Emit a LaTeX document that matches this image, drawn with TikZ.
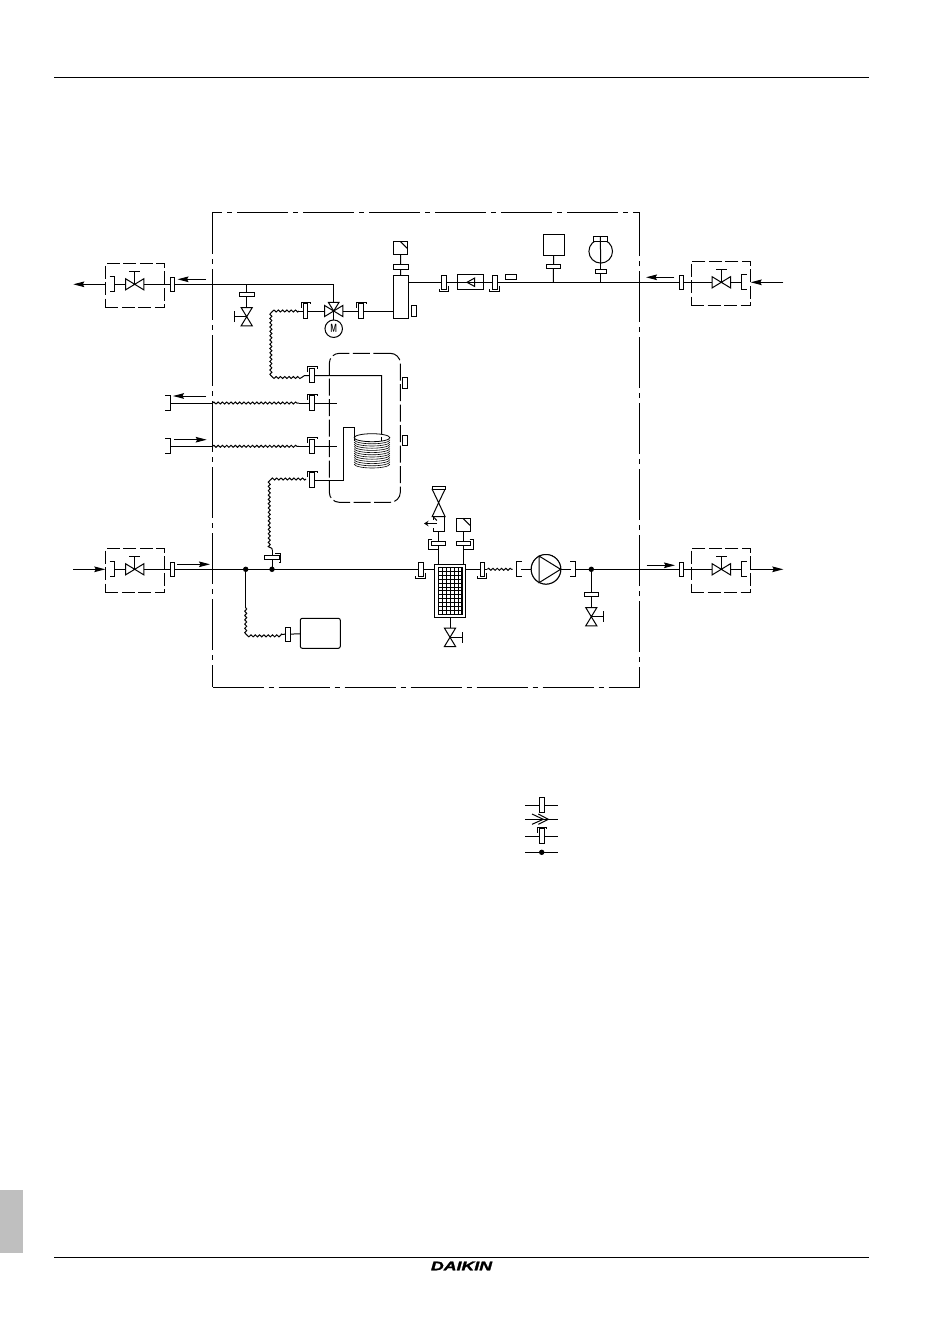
\documentclass[tikz,border=0pt]{standalone}
\usepackage{fontspec}
\usepackage{graphicx}
\usetikzlibrary{arrows.meta, decorations.pathmorphing}
\newfontfamily\logofont[BoldItalicFeatures={FakeBold=1.5}]{Liberation Sans}

\tikzset{
    fitpic/.pic={\draw[fill=white] (-2.3,-7.3) rectangle (2.3,7.3);},
    narrowfit/.pic={\draw[fill=white] (-1.8,-5.7) rectangle (1.8,5.7);},
    capfit/.pic={\draw[fill=white] (-2.3,-7.3) rectangle (2.3,7.3);
                 \draw (-4.3,-3.3) -- (-4.3,-8.7) -- (5,-8.7) -- (5,-7);},
    hookfit/.pic={\draw[fill=white] (-7,-1.8) rectangle (7,1.8);
                 \draw (-6.3,-4) -- (-9.7,-4) -- (-9.7,6) -- (-.7,6);},
    brkpic/.pic={\draw (-2.6,-7.5) -- (2.6,-7.5) -- (2.6,7.5) -- (-2.6,7.5);},
    valvepic/.pic={\draw (0,0) -- (0,-12.6) (-5.3,-12.6) -- (5.3,-12.6);
                \draw[fill=white] (0,0) -- (-9.2,-5.6) -- (-9.2,5.6) -- cycle;
                \draw[fill=white] (0,0) -- (9.2,-5.6) -- (9.2,5.6) -- cycle;},
    threeway/.pic={\draw[fill=white] (0,0) -- (-9.2,-5.6) -- (-9.2,5.6) -- cycle;
                \draw[fill=white] (0,0) -- (9.2,-5.6) -- (9.2,5.6) -- cycle;
                \draw[fill=white] (0,0) -- (-5.3,-8.6) -- (5.3,-8.6) -- cycle;}
}

\begin{document}
\begin{tikzpicture}
                [x=1pt, y=-1pt, line width=1pt,
                framesty/.style={draw, line width=1pt, dash pattern=on 51pt off 5pt on 5pt off 5pt, minimum width=427pt, minimum height=475pt, inner sep=0pt, outer sep=0pt},
                bxsty/.style={draw, dash pattern=on 13pt off 3.5pt, minimum width=59.4pt, minimum height=44pt, inner sep=0pt, outer sep=0pt},
                zonesty/.style={draw, rounded corners=10pt, dash pattern=on 17pt off 3.5pt, minimum width=71pt, minimum height=149pt, inner sep=0pt, outer sep=0pt},
                boxsty/.style={draw, fill=white, inner sep=0pt, outer sep=0pt},
                flexsty/.style={decorate, decoration={snake, amplitude=1pt, segment length=4.3pt}},
                flowsty/.style={-{Stealth[length=11pt, width=5.6pt, inset=1.5pt]}, line width=1pt},
                dotsty/.style={circle, fill=black, inner sep=0pt, minimum size=5.4pt}]
                \useasboundingbox (0,0) rectangle (950,1344);
                % page
                \coordinate (hda) at (54,77.5);
                \coordinate (hdb) at (869,77.5);
                \coordinate (fta) at (54,1257.5);
                \coordinate (ftb) at (869,1257.5);
                \draw[line width=.8pt] (hda) -- (hdb);
                \draw[line width=.8pt] (fta) -- (ftb);
                \fill[black!25] (0,1190) rectangle (23,1253);
                \node[inner sep=0pt] (logo) at (461.5,1266) {\scalebox{1.42}[1]{\logofont\bfseries\itshape\fontsize{12.5}{12.5}\selectfont DAIKIN}};
                % zones
                \node[framesty] (frm) at (426,449.5) {};
                \node[bxsty] (bxa) at (135,285.3) {};
                \node[bxsty] (bxb) at (135,570.3) {};
                \node[bxsty] (bxc) at (720.8,283.3) {};
                \node[bxsty] (bxd) at (720.8,570.3) {};
                \node[zonesty] (zon) at (364.8,427.8) {};
                % joints
                \coordinate (vla) at (134.7,284.3);
                \coordinate (vlb) at (134.7,569.3);
                \coordinate (vlc) at (721.3,282.3);
                \coordinate (vld) at (721.3,569.3);
                \coordinate (vt) at (333.7,311);
                \coordinate (vdr) at (246.7,316.7);
                \coordinate (vrl) at (438.6,502.7);
                \coordinate (vfl) at (450,637.3);
                \coordinate (vpu) at (591.3,616.7);
                \coordinate (ja) at (245.7,569.3);
                \coordinate (jb) at (272,569.3);
                \coordinate (jc) at (591.3,569.3);
                \coordinate (jd) at (553.3,282.3);
                \coordinate (je) at (600.7,282.3);
                \coordinate (jf) at (246.7,284.3);
                \coordinate (jg) at (333.7,284.3);
                % vessels and boxes
                \node[boxsty, minimum width=15pt, minimum height=42.6pt] (ves) at (400.8,297) {};
                \node[boxsty, minimum width=13.4pt, minimum height=13.4pt] (sna) at (400.5,248) {};
                \node[boxsty, minimum width=26pt, minimum height=15pt] (chk) at (470.3,282.3) {};
                \node[boxsty, minimum width=21pt, minimum height=21pt] (mbx) at (553.8,244.8) {};
                \node[boxsty, circle, minimum size=23.6pt] (exv) at (600.7,251.3) {};
                \node[boxsty, minimum width=14pt, minimum height=5pt] (exc) at (600.3,239.2) {};
                \node[boxsty, minimum width=31.4pt, minimum height=53.4pt] (flt) at (450,591) {};
                \node[boxsty, minimum width=13.4pt, minimum height=13.4pt] (snb) at (463.3,525) {};
                \node[boxsty, circle, minimum size=29.6pt] (pmp) at (546,569.3) {};
                \node[boxsty, rounded corners=2pt, minimum width=40pt, minimum height=30pt] (tnk) at (320.3,633.3) {};
                \node[boxsty, minimum width=11.4pt, minimum height=15pt] (rlf) at (439,524.2) {};
                \node[boxsty, circle, minimum size=17.5pt, font=\sffamily\bfseries\fontsize{9.5}{9.5}\selectfont] (mot) at (333.7,328.7) {\scalebox{.72}[1.25]{M}};
                % small markers
                \node[boxsty, minimum width=5.4pt, minimum height=11pt] (mka) at (414,310.8) {};
                \node[boxsty, minimum width=10.7pt, minimum height=5pt] (mkb) at (511.3,276.8) {};
                \node[boxsty, minimum width=5.4pt, minimum height=11pt] (mkc) at (405,382.8) {};
                \node[boxsty, minimum width=5.4pt, minimum height=10pt] (mkd) at (405,440.3) {};
                % flexible runs, ends
                \coordinate (fxa) at (299,311);
                \coordinate (fxb) at (273.5,311);
                \coordinate (fxc) at (273.5,375.7);
                \coordinate (fxd) at (306,375.7);
                \coordinate (fxe) at (212.5,403);
                \coordinate (fxf) at (299,403);
                \coordinate (fxg) at (212.5,446.3);
                \coordinate (fxh) at (299,446.3);
                \coordinate (fxi) at (306,479);
                \coordinate (fxj) at (272,479);
                \coordinate (fxk) at (272,550);
                \coordinate (fxl) at (245.7,607.7);
                \coordinate (fxm) at (245.7,634.3);
                \coordinate (fxn) at (282,634.3);
                \coordinate (fxo) at (487.3,569.3);
                \coordinate (fxp) at (512.7,569.3);
                \coordinate (bka) at (170.3,403);
                \coordinate (bkb) at (170.3,446.3);
                \coordinate (tpa) at (336.7,403);
                \coordinate (tpb) at (336.7,446.3);
                \coordinate (cla) at (381.7,375.5);
                \coordinate (clb) at (381.7,436.7);
                \coordinate (cta) at (312,480);
                \coordinate (ctb) at (343.5,480);
                \coordinate (ctc) at (343.5,427.5);
                \coordinate (ctd) at (354.3,427.5);
                \coordinate (cte) at (354.3,441);
                \coordinate (bla) at (114.7,284.3);
                \coordinate (blb) at (114.7,569.3);
                \coordinate (blc) at (741.7,282.3);
                \coordinate (bld) at (741.7,569.3);
                \coordinate (pma) at (521.3,569.3);
                \coordinate (pmb) at (571,569.3);
                \coordinate (pmc) at (575.6,569.3);
                % pipes
                \draw (bla) -- (bxa.east |- bla) -- (jg) -- (vt);
                \draw (vt) -- (fxa);
                \draw (vt) -- (ves.west |- vt);
                \draw (jf) -- (vdr);
                \draw (vt) -- (mot);
                \draw (ves) -- (sna);
                \draw (ves.east |- jd) -- (blc);
                \draw (jd) -- (mbx);
                \draw (je) -- (exv);
                \draw (fxd) -- (cla) -- (clb);
                \draw (bka) -- (fxe);
                \draw (bkb) -- (fxg);
                \draw (fxf) -- (tpa);
                \draw (fxh) -- (tpb);
                \draw (cta) -- (ctb) -- (ctc) -- (ctd) -- (cte);
                \draw (blb) -- (bxb.east |- blb) -- (flt.west |- blb);
                \draw (flt.east |- blb) -- (fxo);
                \draw (pma) -- (pmp);
                \draw (pmp) -- (pmb);
                \draw (pmc) -- (bld);
                \draw (jc) -- (vpu);
                \draw (fxk) -- (jb);
                \draw (ja) -- (fxl);
                \draw (fxn) -- (tnk);
                \draw (rlf.south -| vrl) -- (flt.north -| vrl);
                \draw (snb) -- (flt.north -| snb);
                \draw (flt) -- (vfl);
                \draw[flexsty] (fxa) -- (fxb) -- (fxc) -- (fxd);
                \draw[flexsty] (fxe) -- (fxf);
                \draw[flexsty] (fxg) -- (fxh);
                \draw[flexsty] (fxi) -- (fxj) -- (fxk);
                \draw[flexsty] (fxl) -- (fxm) -- (fxn);
                \draw[flexsty] (fxo) -- (fxp);
                % symbols drawn on top
                \node[boxsty, circle, minimum size=29.6pt] at (pmp) {};
                \draw (539,556) -- (560.6,569.3) -- (539,582.7) -- cycle;
                \draw (sna.north east) ++(-7,0) -- ++(7,7);
                \draw (snb.north east) ++(-7,0) -- ++(7,7);
                \draw (exc.north) -- (exv.south);
                \draw (467,282.3) -- (474.7,278) -- (474.7,286.5) -- cycle;
                \node[boxsty, line width=1.6pt, minimum width=23.6pt, minimum height=47pt] (grd) at (450.2,590.8) {};
                \foreach \gx in {442.2,446.2,...,460} \draw[line width=.7pt] (\gx,567.3) -- (\gx,614.3);
                \foreach \gy in {571.3,575.2,...,612} \draw[line width=.7pt] (438.3,\gy) -- (462,\gy);
                \draw[fill=white, line width=.8pt] (372,437.7) ellipse[x radius=17.8, y radius=4];
                \foreach \cy in {439.8,442,...,466} \draw[line width=.6pt] (354.2,\cy) arc[start angle=180, end angle=0, x radius=17.8, y radius=4];
                \draw (clb) -- (381.7,441);
                % valves
                \foreach \vn in {vla,vlb,vlc,vld} \pic at (\vn) {valvepic};
                \pic at (vt) {threeway};
                \pic[rotate=90] at (vdr) {valvepic};
                \pic[rotate=-90] at (vfl) {valvepic};
                \pic[rotate=-90] at (vpu) {valvepic};
                \draw[fill=white] (vrl) -- ++(-6.4,-13.4) -- ++(12.8,0) -- cycle;
                \draw[fill=white] (vrl) -- ++(-6.4,13.8) -- ++(12.8,0) -- cycle;
                \draw[fill=white] (432.2,486.7) rectangle (445,489.3);
                % relief outlet
                \draw[white, line width=1.6pt] (433.3,520.3) -- (433.3,527.7);
                \draw (433.3,516.7) -- (436.8,520.5);
                \draw[-{Stealth[open, length=4.5pt, width=5.5pt]}, line width=1.4pt] (437,523.5) -- (424,523.5);
                % fittings on the pipes
                \foreach \fx/\fy in {172.6/284.3, 172.6/569.3, 681.3/282.3, 681.3/569.3, 287.8/634.3} \pic at (\fx,\fy) {fitpic};
                \foreach \fx/\fy in {305.3/311, 361/311, 312/375.5, 312/403, 312/446.3, 312/480} \pic at (\fx,\fy) {capfit};
                \foreach \fx/\fy in {444/282.3, 494.7/282.3, 420.7/569.3, 482.3/569.3} \pic[rotate=180] at (\fx,\fy) {capfit};
                \foreach \fx/\fy in {246.7/294.3, 400.7/267, 553.3/266.3, 591.3/594.3} \pic[rotate=90] at (\fx,\fy) {fitpic};
                \pic[rotate=90] at (600.7,271.7) {narrowfit};
                \pic[rotate=-90] at (272,557.3) {capfit};
                \pic at (438.3,543.3) {hookfit};
                \pic[xscale=-1] at (463.3,543.3) {hookfit};
                % bracket ends
                \foreach \bx/\by in {112.1/284.3, 112.1/569.3, 167.7/403, 167.7/446.3, 573/569.3} \pic at (\bx,\by) {brkpic};
                \foreach \bx/\by in {744.3/282.3, 744.3/569.3, 519/569.3} \pic[rotate=180] at (\bx,\by) {brkpic};
                % junctions
                \foreach \jn in {ja,jb,jc} \node[dotsty] at (\jn) {};
                % flow arrows
                \coordinate (fla) at (105.3,284.3);
                \coordinate (flb) at (73.3,284.3);
                \coordinate (flc) at (73,569.3);
                \coordinate (fld) at (105.3,569.3);
                \coordinate (fle) at (783.3,282.3);
                \coordinate (flf) at (750.7,282.3);
                \coordinate (flg) at (750.3,569.3);
                \coordinate (flh) at (783.3,569.3);
                \coordinate (fli) at (206,279.3);
                \coordinate (flj) at (177.5,279.3);
                \coordinate (flk) at (206,396);
                \coordinate (fll) at (173,396);
                \coordinate (flm) at (174.3,439.7);
                \coordinate (fln) at (206.7,439.7);
                \coordinate (flo) at (177.3,564.3);
                \coordinate (flp) at (210,564.3);
                \coordinate (flq) at (674.3,277.3);
                \coordinate (flr) at (646,277.3);
                \coordinate (fls) at (646.7,565.3);
                \coordinate (flu) at (675,565.3);
                \foreach \fa/\fb in {fla/flb, flc/fld, fle/flf, flg/flh, fli/flj, flk/fll, flm/fln, flo/flp, flq/flr, fls/flu} \draw[flowsty] (\fa) -- (\fb);
                % key
                \foreach \ln/\ky in {lga/805, lgb/819.3, lgc/836, lgd/852.3} {
                    \coordinate (\ln s) at (525,\ky);
                    \coordinate (\ln e) at (558.3,\ky);
                    \draw (\ln s) -- (\ln e);
                }
                \pic at (541.7,805) {fitpic};
                \draw (532,814) -- (543.3,819.3) -- (532,824.3);
                \draw (538.3,814) -- (548.3,819.3) -- (538.3,824.3);
                \pic at (541.7,836) {capfit};
                \node[dotsty] (lgdot) at (541.7,852.3) {};
            \end{tikzpicture}
\end{document}
